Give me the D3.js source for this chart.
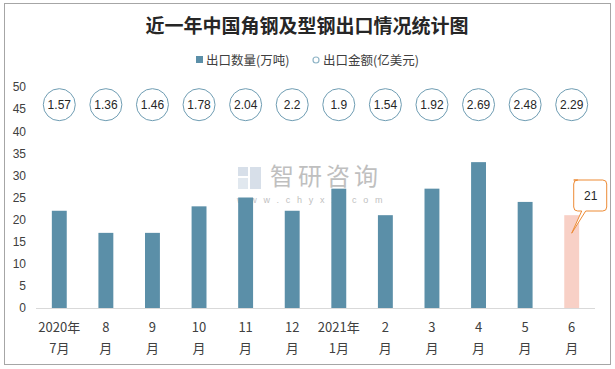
<!DOCTYPE html>
<html><head><meta charset="utf-8">
<script src="https://cdn.jsdelivr.net/npm/d3@7"></script>
<style>body{margin:0;background:#fff;}svg{display:block;font-family:"Liberation Sans","Noto Sans CJK SC",sans-serif;}</style>
</head><body><svg id="c" width="615" height="369"></svg>
<script>
const catLine1 = ["2020年","8","9","10","11","12","2021年","2","3","4","5","6"];
const catLine2 = ["7月","月","月","月","月","月","1月","月","月","月","月","月"];
const quantity = [22,17,17,23,25,22,27,21,27,33,24,21];
const amount = [1.57,1.36,1.46,1.78,2.04,2.2,1.9,1.54,1.92,2.69,2.48,2.29];
const yTicks = [0,5,10,15,20,25,30,35,40,45,50];
const title = "近一年中国角钢及型钢出口情况统计图";
const legendNames = ["出口数量(万吨)","出口金额(亿美元)"];

const svg = d3.select("#c");
svg.append("rect").attr("x",4.5).attr("y",3.5).attr("width",606).attr("height",361)
  .attr("fill","#fff").attr("stroke","#a6a6a6");

const x = d3.scaleBand().domain(d3.range(12)).range([36,595]).paddingInner(0.68).paddingOuter(0.34);
const y = d3.scaleLinear().domain([0,50]).range([308,87]);

// title
svg.append("text").attr("x",307).attr("y",33).attr("text-anchor","middle")
  .attr("font-family","'Noto Sans CJK SC',sans-serif").attr("font-weight","bold")
  .attr("font-size",19).attr("fill","#262626").text(title);

// legend
svg.append("rect").attr("x",196).attr("y",56).attr("width",7).attr("height",7).attr("fill","#5b8fa8");
svg.append("text").attr("x",206).attr("y",64.5).attr("font-size",12.5).attr("fill","#404040")
  .attr("font-family","'Noto Sans CJK SC',sans-serif").text(legendNames[0]);
svg.append("circle").attr("cx",316).attr("cy",60).attr("r",3).attr("fill","none").attr("stroke","#8fb4c6").attr("stroke-width",1.2);
svg.append("text").attr("x",323).attr("y",64.5).attr("font-size",12.5).attr("fill","#404040")
  .attr("font-family","'Noto Sans CJK SC',sans-serif").text(legendNames[1]);

// watermark
const wm = svg.append("g").attr("opacity",0.55);
wm.append("rect").attr("x",238).attr("y",167).attr("width",10).attr("height",9).attr("fill","#b7c6d8");
wm.append("rect").attr("x",238).attr("y",178).attr("width",10).attr("height",11).attr("fill","#c9d6e3");
wm.append("rect").attr("x",250).attr("y",167).attr("width",11).attr("height",22).attr("fill","#b7c6d8");
wm.append("text").attr("x",270).attr("y",185).attr("font-size",24).attr("fill","#8c8c8c")
  .attr("font-family","'Noto Sans CJK SC',sans-serif").attr("letter-spacing",4).text("智研咨询");
wm.append("text").attr("x",237).attr("y",203).attr("font-size",9).attr("fill","#8c8c8c")
  .attr("letter-spacing",6.8).text("www.chyxx.com");

// y axis labels
const yAxis = d3.axisLeft(y).tickValues(yTicks).tickSize(0).tickPadding(0);
const ya = svg.append("g").attr("transform","translate(26,0)").call(yAxis);
ya.select(".domain").remove();
ya.selectAll("text").attr("font-size",12).attr("fill","#404040").attr("font-family","'Liberation Sans',sans-serif");

// bars
svg.append("g").selectAll("rect").data(quantity).join("rect")
  .attr("x",(d,i)=>x(i)).attr("width",x.bandwidth())
  .attr("y",d=>y(d)).attr("height",d=>y(0)-y(d))
  .attr("fill",(d,i)=>i===11?"#f8d0c6":"#5b8fa8");

// baseline
svg.append("line").attr("x1",36).attr("x2",595).attr("y1",308.5).attr("y2",308.5).attr("stroke","#d9d9d9");

// x labels
const xl = svg.append("g");
catLine1.forEach((t,i)=>{
  const cx = x(i)+x.bandwidth()/2;
  xl.append("text").attr("x",cx).attr("y",332).attr("text-anchor","middle").attr("font-size",13)
    .attr("fill","#404040").attr("font-family","'Noto Sans CJK SC',sans-serif").text(t);
  xl.append("text").attr("x",cx).attr("y",353).attr("text-anchor","middle").attr("font-size",13)
    .attr("fill","#404040").attr("font-family","'Noto Sans CJK SC',sans-serif").text(catLine2[i]);
});

// amount circles
const cg = svg.append("g").selectAll("g").data(amount).join("g")
  .attr("transform",(d,i)=>`translate(${x(i)+x.bandwidth()/2},${y(46)})`);
cg.append("circle").attr("r",16).attr("fill","#fff").attr("stroke","#6f9db3").attr("stroke-width",1);
cg.append("text").attr("text-anchor","middle").attr("dy","0.35em").attr("font-size",12)
  .attr("fill","#262626").text(d=>d);

// callout for last bar
const lx = x(11)+x.bandwidth()/2, ly = y(quantity[11]);
const callout = svg.append("g");
callout.append("path")
  .attr("d",`M${lx+2},180 h29 q4,0 4,4 v23 q0,4 -4,4 h-17 L${lx},${ly+18} L${lx+10},211 h-4 q-4,0 -4,-4 v-23 q0,-4 4,-4 Z`)
  .attr("fill","#fff").attr("stroke","#ed8b35").attr("stroke-width",1);
callout.append("text").attr("x",lx+19).attr("y",200).attr("text-anchor","middle").attr("font-size",12)
  .attr("fill","#262626").text(quantity[11]);
</script></body></html>
